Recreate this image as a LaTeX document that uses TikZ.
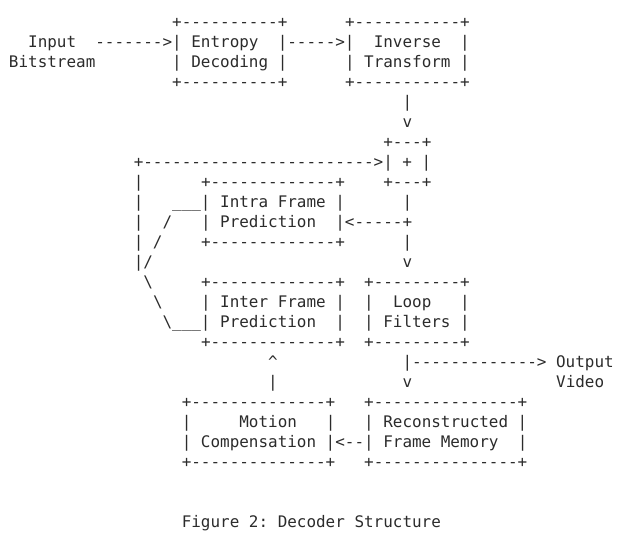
\documentclass[tikz,border=0pt]{standalone}
\usepackage{fontspec}
\setmonofont{DejaVu Sans Mono}
\definecolor{asciiink}{HTML}{2B2B2B}
\newcommand\asciifont{\ttfamily\fontsize{15.94pt}{20pt}\selectfont}
\tikzset{ascii/.style={font=\asciifont, text=asciiink, anchor=base west, inner sep=0pt, outer sep=0pt}}
\begin{document}
\begin{tikzpicture}[x=9.6pt,y=-20pt]
    \useasboundingbox (-0.9375,-1.375) rectangle (64.6875,25.725);
    % entropy decoding and inverse transform
    \node[ascii] (entTop) at (17,0) {+----------+}; \node[ascii] (invTop) at (35,0) {+-----------+};
    \node[ascii] (inLbl) at (2,1) {Input}; \node[ascii] (inArrow) at (9,1) {------->|};
    \node[ascii] (entLbl) at (19,1) {Entropy}; \node[ascii] (entArrow) at (28,1) {|----->|};
    \node[ascii] (invLbl) at (38,1) {Inverse}; \node[ascii] (invSide) at (47,1) {|};
    \node[ascii] (inLblB) at (0,2) {Bitstream}; \node[ascii] (entLblB) at (17,2) {| Decoding |};
    \node[ascii] (invLblB) at (35,2) {| Transform |};
    \node[ascii] (entBot) at (17,3) {+----------+}; \node[ascii] (invBot) at (35,3) {+-----------+};
    \node[ascii] (invDown) at (41,4) {|}; \node[ascii] (invTip) at (41,5) {v};
    % adder
    \node[ascii] (addTop) at (39,6) {+---+};
    \node[ascii] (addLine) at (13,7) {+------------------------>| + |};
    \node[ascii] (loopA) at (13,8) {|}; \node[ascii] (intraTop) at (20,8) {+-------------+};
    \node[ascii] (addBot) at (39,8) {+---+};
    % intra frame prediction
    \node[ascii] (loopB) at (13,9) {|}; \node[ascii] (intraLbl) at (17,9) {\_\_\_| Intra Frame |};
    \node[ascii] (addDownA) at (41,9) {|};
    \node[ascii] (loopC) at (13,10) {|}; \node[ascii] (slashA) at (16,10) {/};
    \node[ascii] (intraLblB) at (20,10) {| Prediction}; \node[ascii] (intraArrow) at (34,10) {|<-----+};
    \node[ascii] (loopD) at (13,11) {| /}; \node[ascii] (intraBot) at (20,11) {+-------------+};
    \node[ascii] (addDownB) at (41,11) {|};
    \node[ascii] (loopE) at (13,12) {|/}; \node[ascii] (addTip) at (41,12) {v};
    % inter frame prediction and loop filters
    \node[ascii] (bslashA) at (14,13) {\textbackslash}; \node[ascii] (interTop) at (20,13) {+-------------+};
    \node[ascii] (filtTop) at (37,13) {+---------+};
    \node[ascii] (bslashB) at (15,14) {\textbackslash}; \node[ascii] (interLbl) at (20,14) {| Inter Frame |};
    \node[ascii] (filtSide) at (37,14) {|}; \node[ascii] (filtLbl) at (40,14) {Loop};
    \node[ascii] (filtSideB) at (47,14) {|};
    \node[ascii] (interLblB) at (16,15) {\textbackslash\_\_\_| Prediction}; \node[ascii] (interSide) at (34,15) {|};
    \node[ascii] (filtLblB) at (37,15) {| Filters |};
    \node[ascii] (interBot) at (20,16) {+-------------+}; \node[ascii] (filtBot) at (37,16) {+---------+};
    % output and motion compensation
    \node[ascii] (mcTip) at (27,17) {\textasciicircum}; \node[ascii] (outArrow) at (41,17) {|-------------> Output};
    \node[ascii] (mcUp) at (27,18) {|}; \node[ascii] (filtTip) at (41,18) {v};
    \node[ascii] (outLbl) at (57,18) {Video};
    \node[ascii] (mcTop) at (18,19) {+--------------+}; \node[ascii] (memTop) at (37,19) {+---------------+};
    \node[ascii] (mcSide) at (18,20) {|}; \node[ascii] (mcLbl) at (24,20) {Motion};
    \node[ascii] (mcSideB) at (33,20) {|}; \node[ascii] (memLbl) at (37,20) {| Reconstructed |};
    \node[ascii] (mcLblB) at (18,21) {| Compensation |<--| Frame Memory}; \node[ascii] (memSide) at (53,21) {|};
    \node[ascii] (mcBot) at (18,22) {+--------------+}; \node[ascii] (memBot) at (37,22) {+---------------+};
    \node[ascii] (caption) at (18,25) {Figure 2: Decoder Structure};
\end{tikzpicture}
\end{document}
